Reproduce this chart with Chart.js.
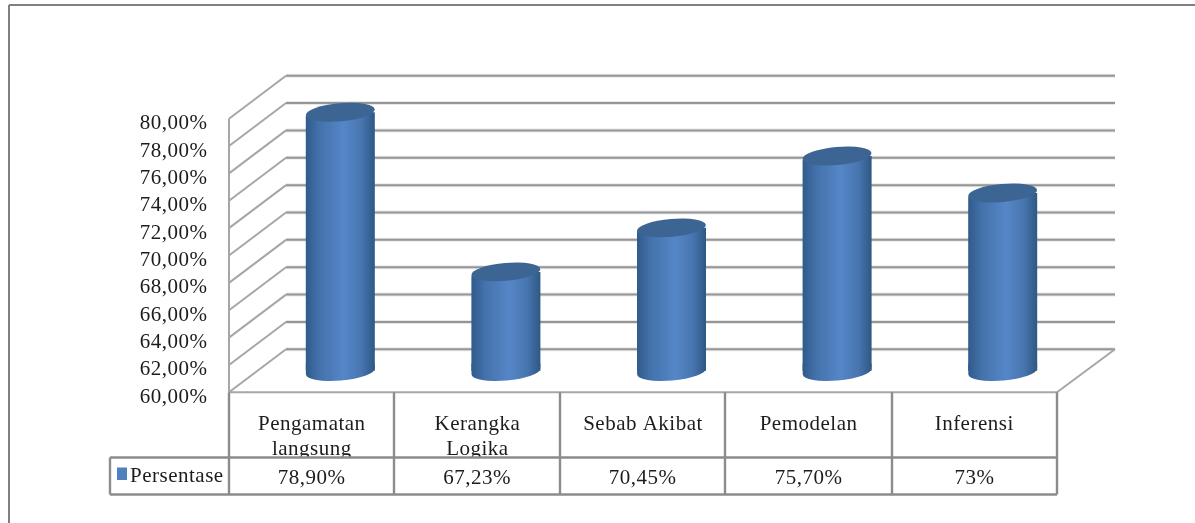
<!DOCTYPE html>
<html><head><meta charset="utf-8">
<style>html,body{margin:0;padding:0;background:#fff}canvas{display:block;filter:blur(0.4px)}#w{position:relative;width:1195px;height:523px;overflow:hidden}</style>
<script src="https://cdn.jsdelivr.net/npm/chart.js@4"></script></head>
<body><div id="w"><canvas id="c" width="1195" height="523"></canvas></div>
<script>
const categories = [["Pengamatan","langsung"],["Kerangka","Logika"],["Sebab Akibat"],["Pemodelan"],["Inferensi"]];
const seriesName = "Persentase";
const persentase = [78.9, 67.23, 70.45, 75.7, 73];
const valueLabels = ["78,90%","67,23%","70,45%","75,70%","73%"];
const yMin = 60, yMax = 80, yStep = 2;

const GRID = "#959595";
const FONT = '"Liberation Serif","Times New Roman",serif';
const TEXT = "#1c1c1c";
// depth of the 3D box: the bars stand at mid-depth, which is the plane the chart area is placed on
const DX = 57, DY = 43;
const L = 229, R = 1057, B = 392.3, T = 118.7;

function line(ctx, x1, y1, x2, y2, w, c) {
  ctx.beginPath(); ctx.moveTo(x1, y1); ctx.lineTo(x2, y2);
  ctx.lineWidth = w || 2; ctx.strokeStyle = c || GRID; ctx.stroke();
}
function softLine(ctx, x1, y1, x2, y2) {
  line(ctx, x1, y1, x2, y2, 4, "#e8e8e8");
  line(ctx, x1, y1, x2, y2, 2, GRID);
}
function cylGradient(ctx, x0, x1) {
  const g = ctx.createLinearGradient(x0, 0, x1, 0);
  g.addColorStop(0, "#2f5a8c");
  g.addColorStop(0.2, "#4472ab");
  g.addColorStop(0.55, "#5586c7");
  g.addColorStop(0.8, "#4876b0");
  g.addColorStop(1, "#2e5884");
  return g;
}
const box = {
  id: "box",
  beforeDraw(chart) { chart.ctx.letterSpacing = "0.5px"; },
  beforeDatasetsDraw(chart) {
    const { ctx } = chart, y = chart.scales.y;
    ctx.save();
    y.ticks.forEach(t => {
      const py = y.getPixelForValue(t.value) + DY / 2;
      line(ctx, L, py, L + DX, py - DY, 2, "#a6a6a6");
      softLine(ctx, L + DX, py - DY, R + DX + 1, py - DY);
    });
    line(ctx, L, B, L, T, 2, "#a6a6a6");
    line(ctx, L, B, R, B, 2, "#a6a6a6");
    line(ctx, R, B, R + DX + 1, B - DY, 2, "#a6a6a6");
    ctx.restore();
  },
  afterDatasetsDraw(chart) {
    const { ctx } = chart, meta = chart.getDatasetMeta(0), y = chart.scales.y;
    const base = y.getPixelForValue(yMin) + 0.8;
    ctx.save();
    const tilt = -5 * Math.PI / 180;
    meta.data.forEach(bar => {
      const hw = bar.width / 2;
      ctx.fillStyle = cylGradient(ctx, bar.x - hw, bar.x + hw);
      ctx.beginPath();
      ctx.ellipse(bar.x, base, hw, 9, tilt, 0, Math.PI);
      ctx.lineTo(bar.x - hw, base - 8);
      ctx.lineTo(bar.x + hw, base - 8);
      ctx.closePath(); ctx.fill();
      ctx.fillStyle = "#3c6594";
      ctx.beginPath();
      ctx.ellipse(bar.x, bar.y, hw, 9, tilt, 0, Math.PI * 2);
      ctx.fill();
    });
    ctx.restore();
  },
  afterDraw(chart) {
    const { ctx } = chart;
    ctx.save();
    // outer frame
    line(ctx, 9, 5, 1195, 5, 2, "#808080");
    line(ctx, 9, 5, 9, 523, 2, "#808080");
    // data table
    const cols = [229, 394, 560, 725, 892, 1057];
    const top = B, mid = 457.5, bot = 494.5, left = 110;
    // white strip hides the descenders that fall under the row rule, as in the source
    ctx.fillStyle = "#fff";
    ctx.fillRect(left, mid, R - left, bot - mid);
    cols.forEach(x => line(ctx, x, top, x, bot, 2.4, "#8c8c8c"));
    line(ctx, left, mid, R, mid, 2.4, "#8c8c8c");
    line(ctx, left, bot, R, bot, 2.4, "#8c8c8c");
    line(ctx, left, mid, left, bot, 2.4, "#8c8c8c");
    ctx.fillStyle = TEXT;
    ctx.font = "21px " + FONT;
    ctx.textBaseline = "middle";
    ctx.textAlign = "center";
    valueLabels.forEach((v, i) => ctx.fillText(v, (cols[i] + cols[i + 1]) / 2, 478));
    ctx.textAlign = "left";
    ctx.fillText(seriesName, 130, 476);
    ctx.fillStyle = "#4f81bd";
    ctx.fillRect(117, 467.5, 10, 12.5);
    ctx.restore();
  }
};

new Chart(document.getElementById("c"), {
  type: "bar",
  data: {
    labels: categories,
    datasets: [{
      label: seriesName,
      data: persentase,
      barPercentage: 1,
      categoryPercentage: 69 / 165.6,
      borderSkipped: false,
      borderWidth: 0,
      borderRadius: { topLeft: 5, topRight: 0, bottomLeft: 0, bottomRight: 4 },
      backgroundColor(c) {
        const a = c.chart.chartArea;
        if (!a) return "#4f81bd";
        const cw = a.width / categories.length, cx = a.left + cw * (c.dataIndex + 0.5);
        return cylGradient(c.chart.ctx, cx - 34.5, cx + 34.5);
      }
    }]
  },
  options: {
    responsive: false, animation: false,
    events: [],
    layout: { padding: { left: 0, top: 97.2, right: 1195 - (R + DX / 2), bottom: 0 } },
    plugins: { legend: { display: false }, tooltip: { enabled: false }, title: { display: false } },
    scales: {
      y: {
        min: yMin, max: yMax,
        border: { display: false },
        grid: { display: false },
        afterFit(s) { s.width = L + DX / 2; },
        ticks: {
          stepSize: yStep, padding: 42, autoSkip: false,
          labelOffset: DY / 2 + 5,
          color: TEXT,
          font: { family: FONT, size: 21 },
          callback: v => v.toFixed(2).replace(".", ",") + "%"
        }
      },
      x: {
        border: { display: false },
        grid: { display: false },
        afterFit(s) { s.height = 523 - (B - DY / 2); },
        ticks: {
          padding: 33, maxRotation: 0, autoSkip: false,
          labelOffset: -DX / 2,
          color: TEXT,
          font: { family: FONT, size: 21, lineHeight: 1.2 }
        }
      }
    }
  },
  plugins: [box]
});
</script></body></html>
